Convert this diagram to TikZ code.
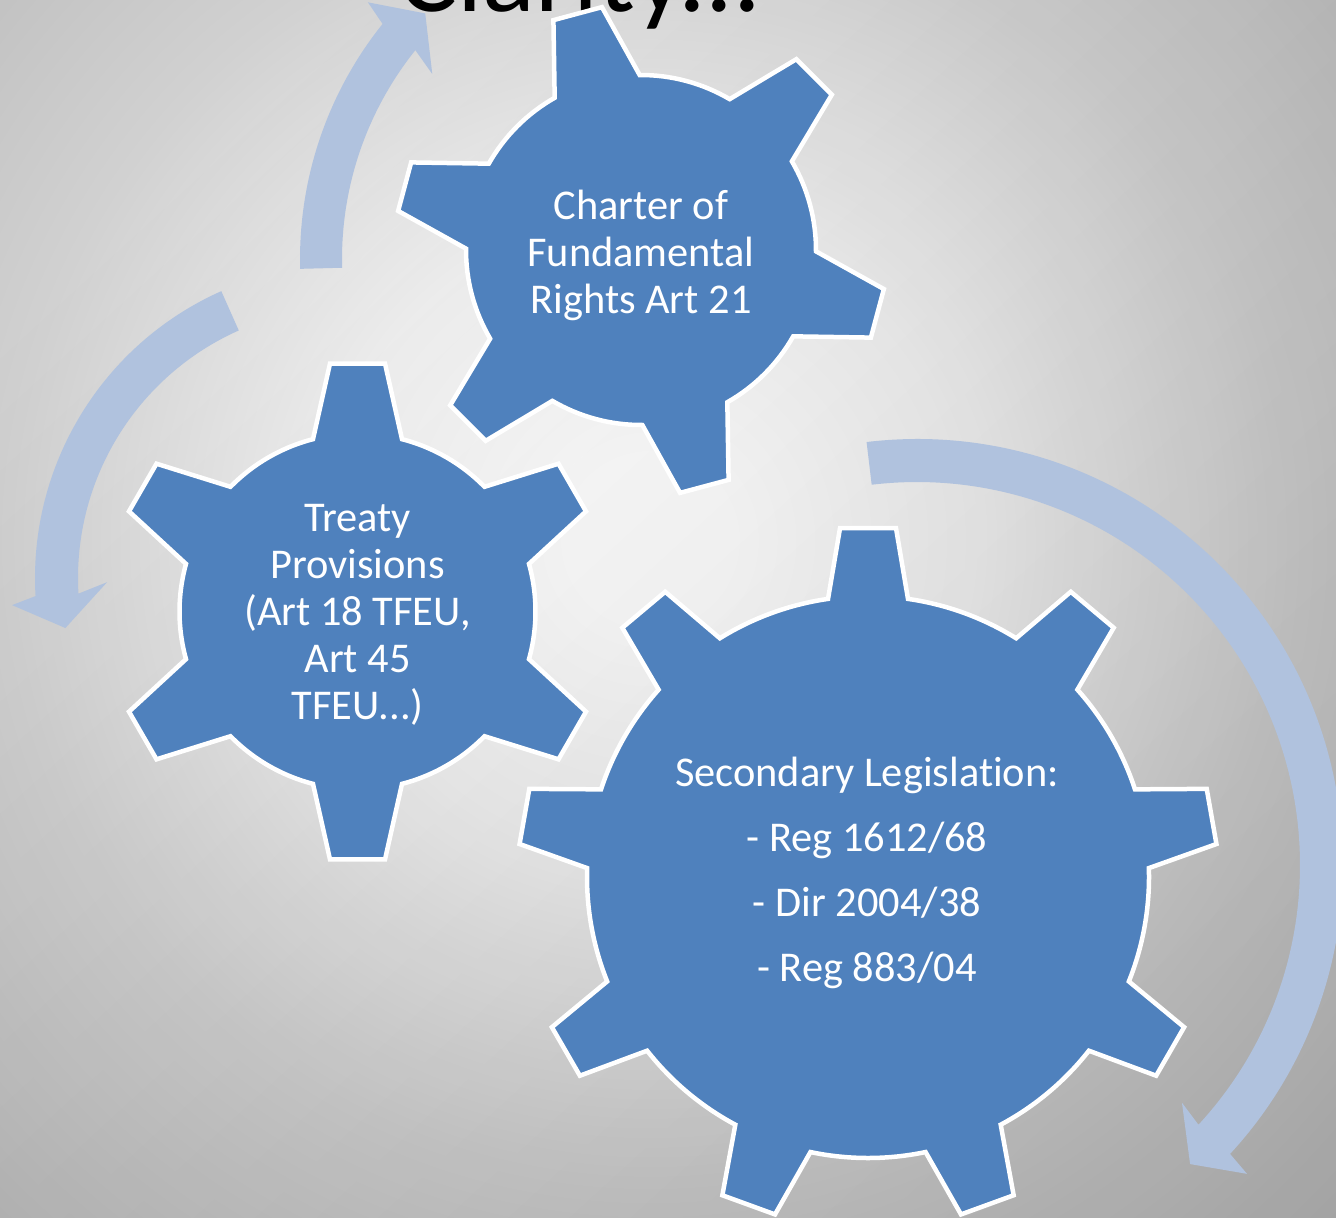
\documentclass[tikz,border=0pt]{standalone}
\usepackage{fontspec}
\setmainfont{Carlito}[Ligatures=NoCommon]
\usetikzlibrary{calc,fadings}
\definecolor{gearblue}{RGB}{79,129,189}
\definecolor{arrowblue}{RGB}{176,194,222}
\definecolor{bgA}{gray}{0.95}
\definecolor{bgB}{gray}{0.82}
\definecolor{bgC}{gray}{0.72}
\definecolor{bgD}{gray}{0.60}
\pgfdeclareradialshading{bgshade}{\pgfpoint{0bp}{0bp}}{color(0bp)=(white); color(2bp)=(white); color(8bp)=(bgA); color(16bp)=(bgB); color(25bp)=(bgC); color(50bp)=(bgD)}
\tikzfading[name=brfade, left color=transparent!100, right color=transparent!0]
\tikzset{
  gearfill/.style={fill=gearblue, draw=white, line width=2.25pt, line join=miter},
  arrowband/.style={fill=arrowblue},
  geartext/.style={text=white, align=center, inner sep=0pt, font=\fontsize{21.2}{23.5}\selectfont},
  legtext/.style={text=white, align=center, inner sep=0pt, font=\fontsize{21.2}{32.5}\selectfont},
  titletext/.style={text=black, inner sep=0pt, font=\fontsize{55}{60}\selectfont},
}
% #1 centre, #2 teeth, #3 first tooth angle, #4 outer corner radius,
% #5 body radius, #6 outer half-angle, #7 base half-angle
\newcommand{\mygear}[7]{%
  \pgfmathsetmacro{\gstep}{360/#2}%
  \path[gearfill] ($(#1)+({#3-#7}:#5)$)
  \foreach \k in {1,...,#2}{
    -- ($(#1)+({#3+(\k-1)*\gstep-#6}:#4)$)
    -- ($(#1)+({#3+(\k-1)*\gstep+#6}:#4)$)
    -- ($(#1)+({#3+(\k-1)*\gstep+#7}:#5)$)
    arc[start angle={#3+(\k-1)*\gstep+#7}, end angle={#3+\k*\gstep-#7}, radius=#5]
  } -- cycle;
}
\begin{document}
\begin{tikzpicture}[x=0.5pt,y=0.5pt]
\useasboundingbox (0,0) rectangle (1336,-1217);
\clip (0,0) rectangle (1336,-1217);
% background
\shade[shading=bgshade] (-350,460) rectangle (1650,-1540);
\fill[black, fill opacity=0.12, path fading=brfade, fading angle=-45] (-20,20) rectangle (1356,-1237);
% centres
\coordinate (cC) at (641,-250);
\coordinate (cT) at (357.5,-611.5);
\coordinate (cS) at (868,-877);
\coordinate (aA) at (676,-259);
\coordinate (aB) at (349,-578);
\coordinate (aC) at (917,-865);
% title
\node[titletext, anchor=base] (title) at (580,-11) {Clarity...};
% arrows
\path[arrowband] ($(aA)+(181.5:376)$) arc[start angle=181.5, end angle=141.3, radius=376]
  -- ($(aA)+(140.2:401)$) -- ($(aA)+(135.6:351)$) -- ($(aA)+(142.8:306)$)
  -- ($(aA)+(141.3:334)$) arc[start angle=141.3, end angle=181.5, radius=334] -- cycle;
\path[arrowband] ($(aB)+(114:314)$) arc[start angle=114, end angle=183.3, radius=314]
  -- ($(aB)+(184.6:338)$) -- ($(aB)+(190:288)$) -- ($(aB)+(181:242)$)
  -- ($(aB)+(183.3:271)$) arc[start angle=183.3, end angle=114, radius=271] -- cycle;
\path[arrowband] ($(aC)+(96.8:426)$) arc[start angle=96.8, end angle=-42.7, radius=426]
  -- ($(aC)+(-43.1:452)$) -- ($(aC)+(-47.6:405)$) -- ($(aC)+(-41.9:356)$)
  -- ($(aC)+(-42.7:383)$) arc[start angle=-42.7, end angle=96.8, radius=383] -- cycle;
% gears
\mygear{cC}{6}{105}{246}{175}{5.86}{14.56}
\mygear{cT}{6}{90}{249.5}{178}{6.33}{14.48}
\mygear{cS}{9}{90}{350}{281}{4.59}{8.18}
% texts
\node[geartext] (charter) at (641,-255) {Charter of\\Fundamental\\Rights Art 21};
\node[geartext] (treaty) at (357.5,-615) {Treaty\\Provisions\\(Art 18 TFEU,\\Art 45\\TFEU...)};
\node[legtext] (secondary) at (867,-873) {Secondary Legislation:\\- Reg 1612/68\\- Dir 2004/38\\- Reg 883/04};
\end{tikzpicture}
\end{document}
